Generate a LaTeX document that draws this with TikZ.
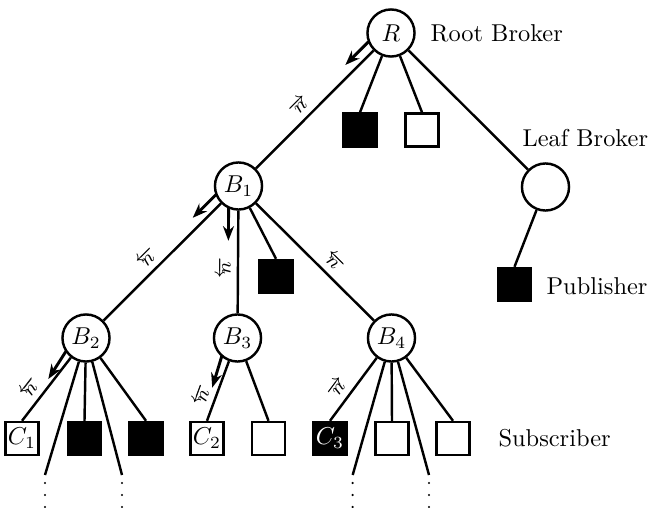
\documentclass[tikz,border=0pt]{standalone}
\usetikzlibrary{arrows.meta,calc}
\tikzset{
  broker/.style={draw, circle, line width=1pt, minimum size=19.3pt, inner sep=0pt},
  client/.style={draw, rectangle, line width=1pt, minimum size=13.5pt, inner sep=0pt},
  pub/.style={client, fill=black, text=white},
  sub/.style={client, fill=white},
  link/.style={line width=1pt},
  lab/.style={sloped, above, font=\footnotesize, inner sep=2.5pt},
  flow/.style={-{Stealth[length=6pt,width=4.5pt]}, line width=1.2pt},
  more/.style={line width=1pt, line cap=round, dash pattern=on 0pt off 4.92pt},
  role/.style={anchor=west},
}

\begin{document}
\begin{tikzpicture}[x=0.41pt, y=-0.41pt]
  \useasboundingbox (0,0) rectangle (650,508);
  % brokers
  \node[broker] (R) at (391,33) {$R$};
  \node[broker] (B1) at (238.5,186) {$B_1$};
  \node[broker] (L) at (545.5,187) {};
  \node[broker] (B2) at (86,338) {$B_2$};
  \node[broker] (B3) at (237.5,338) {$B_3$};
  \node[broker] (B4) at (391.5,338) {$B_4$};
  % clients
  \node[pub] (r1) at (360,130) {};
  \node[sub] (r2) at (422,130) {};
  \node[pub] (P) at (514.5,284.5) {};
  \node[pub] (q1) at (276,276.5) {};
  \node[sub] (C1) at (22,438.5) {$C_1$};
  \node[pub] (q2) at (84.5,438.5) {};
  \node[pub] (q3) at (146,438.5) {};
  \node[sub] (C2) at (207,438.5) {$C_2$};
  \node[sub] (q4) at (268.5,438.5) {};
  \node[pub] (C3) at (330,438.5) {$C_3$};
  \node[sub] (q5) at (392,438.5) {};
  \node[sub] (q6) at (453,438.5) {};
  \coordinate (d1) at (45,475);
  \coordinate (d2) at (122,475);
  \coordinate (d3) at (352.7,475);
  \coordinate (d4) at (429,475);
  % roles
  \node[role] (rootlab) at (422,33) {Root Broker};
  \node[role] (leaflab) at (514,138) {Leaf Broker};
  \node[role] (publab) at (538,286) {Publisher};
  \node[role] (sublab) at (490,438) {Subscriber};
  % plain links
  \foreach \a/\b in {R/r1.north, R/r2.north, R/L, L/P.north, B1/q1.north,
    B2/d1, B2/q2.north, B2/d2, B2/q3.north, B3/q4.north,
    B4/d3, B4/q5.north, B4/d4, B4/q6.north}
    \draw[link] (\a) -- (\b);
  % links the notification travels
  \draw[link] (B1) -- node[lab, pos=.45]{$\overrightarrow{n}$} (R);
  \draw[link] (B2) -- node[lab, pos=.45]{$\overleftarrow{n}$} (B1);
  \draw[link] (B3) -- node[lab, pos=.44]{$\overleftarrow{n}$} (B1);
  \draw[link] (B4) -- node[lab, pos=.42]{$\overleftarrow{n}$} (B1);
  \draw[link] (C1.north) -- node[lab, pos=.38]{$\overleftarrow{n}$} (B2);
  \draw[link] (C2.north) -- node[lab, pos=.35]{$\overleftarrow{n}$} (B3);
  \draw[link] (C3.north) -- node[lab, pos=.39]{$\overrightarrow{n}$} (B4);
  \foreach \a/\b in {R/B1, B1/B2, B1/B3, B2/C1, B3/C2}
    \draw[flow] ($(\a)!9pt!(\b)!4pt!-90:(\b)$) -- ($(\a)!22.5pt!(\b)!4pt!-90:(\b)$);
  % more subscribers below
  \foreach \d in {d1,d2,d3,d4}
    \draw[more] ($(\d)+(0,8)$) -- ++(0,24);
\end{tikzpicture}
\end{document}
